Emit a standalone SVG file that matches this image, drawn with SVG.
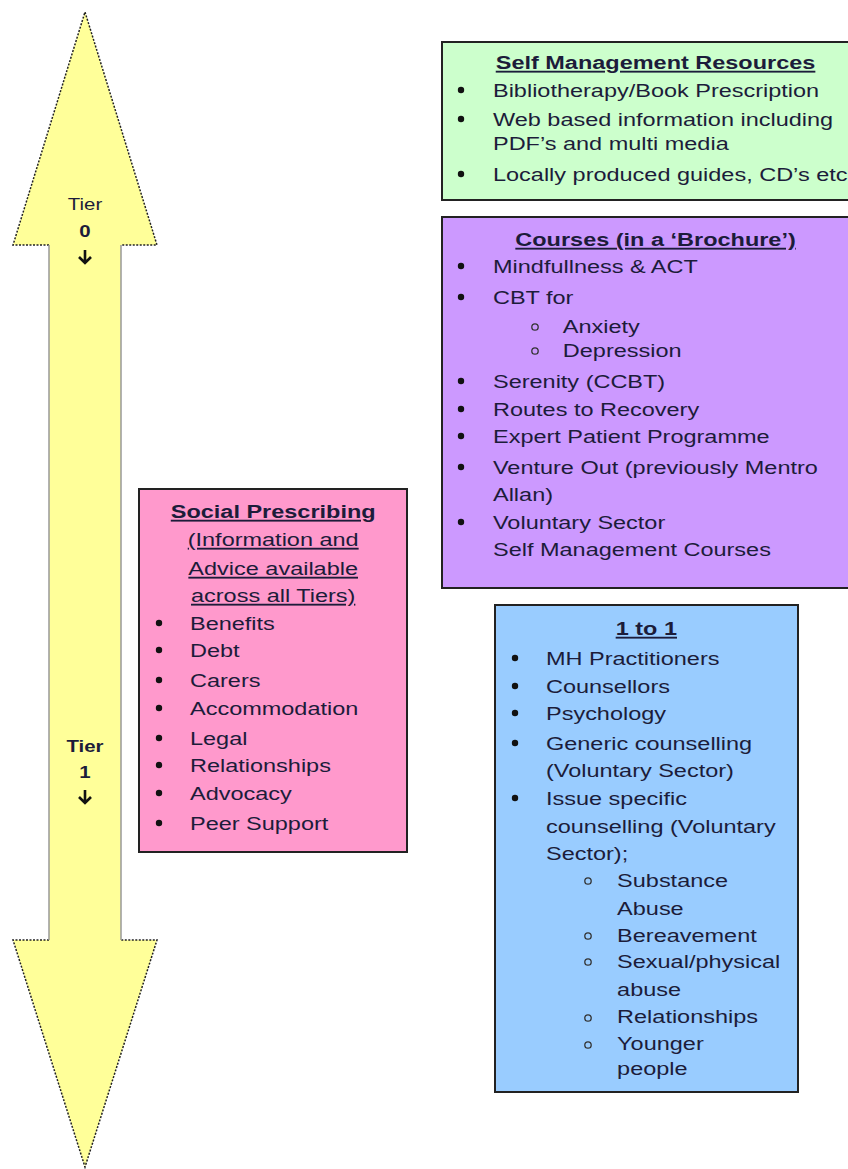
<svg xmlns="http://www.w3.org/2000/svg" width="848" height="1169" viewBox="0 0 848 1169">
<style>
.t{font-family:"Liberation Sans",Arial,sans-serif;font-size:18.5px;fill:#1c1c3a}
.b{font-weight:bold}
.u{text-decoration:underline}
.m{text-anchor:middle}
.box{stroke:#222;stroke-width:2}
.dot{fill:#111}
.sub{fill:none;stroke:#333;stroke-width:1.3}
.tier{font-family:"Liberation Sans",Arial,sans-serif;font-size:17px;fill:#1c1c3a;text-anchor:middle}
</style>
<rect width="848" height="1169" fill="#fff"/>
<g id="tier-arrow">
<polygon points="85,12 13,245 49,245 49,940 13,940 85,1167 157,940 121,940 121,245 157,245" fill="#ffff99"/>
<polyline points="49,245 13,245 85,12 157,245 121,245" fill="none" stroke="#222" stroke-width="1.5" stroke-dasharray="2 1.5"/>
<polyline points="49,940 13,940 85,1167 157,940 121,940" fill="none" stroke="#222" stroke-width="1.5" stroke-dasharray="2 1.5"/>
<line x1="49" y1="245" x2="49" y2="940" stroke="#999" stroke-width="1.5"/>
<line x1="121" y1="245" x2="121" y2="940" stroke="#999" stroke-width="1.5"/>
<g transform="translate(85,0) scale(1.2 1)">
<text class="tier" y="210">Tier</text>
<text class="tier b" y="237">0</text>
<text class="tier b" y="778">1</text>
<text class="tier b" y="752">Tier</text>
</g>
<path d="M85,250 V263 M79,257 L85,263 L91,257" fill="none" stroke="#111" stroke-width="2.6"/>
<path d="M85,790 V803 M79,797 L85,803 L91,797" fill="none" stroke="#111" stroke-width="2.6"/>
</g>
<g id="self-management">
<rect class="box" x="442" y="42" width="420" height="158" fill="#ccffcc"/>
<circle class="dot" cx="461" cy="90" r="3.2"/>
<circle class="dot" cx="461" cy="119" r="3.2"/>
<circle class="dot" cx="461" cy="174" r="3.2"/>
<g transform="translate(493,0) scale(1.27 1)">
<text class="t b u m" x="128" y="69">Self Management Resources</text>
<text class="t" x="0" y="97">Bibliotherapy/Book Prescription</text>
<text class="t" x="0" y="126">Web based information including</text>
<text class="t" x="0" y="150">PDF’s and multi media</text>
<text class="t" x="0" y="181">Locally produced guides, CD’s etc</text>
</g>
</g>
<g id="courses">
<rect class="box" x="442" y="217" width="420" height="371" fill="#cc99ff"/>
<circle class="dot" cx="461" cy="266" r="3.2"/>
<circle class="dot" cx="461" cy="297" r="3.2"/>
<circle class="sub" cx="535" cy="327" r="3.2"/>
<circle class="sub" cx="535" cy="351" r="3.2"/>
<circle class="dot" cx="461" cy="381" r="3.2"/>
<circle class="dot" cx="461" cy="409" r="3.2"/>
<circle class="dot" cx="461" cy="436" r="3.2"/>
<circle class="dot" cx="461" cy="467" r="3.2"/>
<circle class="dot" cx="461" cy="522" r="3.2"/>
<g transform="translate(493,0) scale(1.27 1)">
<text class="t b u m" x="128" y="246">Courses (in a ‘Brochure’)</text>
<text class="t" x="0" y="273">Mindfullness &amp; ACT</text>
<text class="t" x="0" y="304">CBT for</text>
<text class="t" x="55" y="333">Anxiety</text>
<text class="t" x="55" y="357">Depression</text>
<text class="t" x="0" y="388">Serenity (CCBT)</text>
<text class="t" x="0" y="416">Routes to Recovery</text>
<text class="t" x="0" y="443">Expert Patient Programme</text>
<text class="t" x="0" y="474">Venture Out (previously Mentro</text>
<text class="t" x="0" y="501">Allan)</text>
<text class="t" x="0" y="529">Voluntary Sector</text>
<text class="t" x="0" y="556">Self Management Courses</text>
</g>
</g>
<g id="social-prescribing">
<rect class="box" x="139" y="489" width="268" height="363" fill="#ff99cc"/>
<circle class="dot" cx="159" cy="623" r="3.2"/>
<circle class="dot" cx="159" cy="650" r="3.2"/>
<circle class="dot" cx="159" cy="680" r="3.2"/>
<circle class="dot" cx="159" cy="708" r="3.2"/>
<circle class="dot" cx="159" cy="738" r="3.2"/>
<circle class="dot" cx="159" cy="765" r="3.2"/>
<circle class="dot" cx="159" cy="793" r="3.2"/>
<circle class="dot" cx="159" cy="823" r="3.2"/>
<g transform="translate(190,0) scale(1.27 1)">
<text class="t b u m" x="65.5" y="518">Social Prescribing</text>
<text class="t u m" x="65.5" y="546">(Information and</text>
<text class="t u m" x="65.5" y="575">Advice available</text>
<text class="t u m" x="65.5" y="602">across all Tiers)</text>
<text class="t" x="0" y="630">Benefits</text>
<text class="t" x="0" y="657">Debt</text>
<text class="t" x="0" y="687">Carers</text>
<text class="t" x="0" y="715">Accommodation</text>
<text class="t" x="0" y="745">Legal</text>
<text class="t" x="0" y="772">Relationships</text>
<text class="t" x="0" y="800">Advocacy</text>
<text class="t" x="0" y="830">Peer Support</text>
</g>
</g>
<g id="one-to-one">
<rect class="box" x="495" y="605" width="303" height="487" fill="#99ccff"/>
<circle class="dot" cx="515" cy="658" r="3.2"/>
<circle class="dot" cx="515" cy="686" r="3.2"/>
<circle class="dot" cx="515" cy="713" r="3.2"/>
<circle class="dot" cx="515" cy="743" r="3.2"/>
<circle class="dot" cx="515" cy="798" r="3.2"/>
<circle class="sub" cx="588" cy="881" r="3.2"/>
<circle class="sub" cx="588" cy="936" r="3.2"/>
<circle class="sub" cx="588" cy="962" r="3.2"/>
<circle class="sub" cx="588" cy="1018" r="3.2"/>
<circle class="sub" cx="588" cy="1045" r="3.2"/>
<g transform="translate(546,0) scale(1.27 1)">
<text class="t b u m" x="79" y="635">1 to 1</text>
<text class="t" x="0" y="665">MH Practitioners</text>
<text class="t" x="0" y="693">Counsellors</text>
<text class="t" x="0" y="720">Psychology</text>
<text class="t" x="0" y="750">Generic counselling</text>
<text class="t" x="0" y="777">(Voluntary Sector)</text>
<text class="t" x="0" y="805">Issue specific</text>
<text class="t" x="0" y="833">counselling (Voluntary</text>
<text class="t" x="0" y="860">Sector);</text>
<text class="t" x="56" y="887">Substance</text>
<text class="t" x="56" y="915">Abuse</text>
<text class="t" x="56" y="942">Bereavement</text>
<text class="t" x="56" y="968">Sexual/physical</text>
<text class="t" x="56" y="996">abuse</text>
<text class="t" x="56" y="1023">Relationships</text>
<text class="t" x="56" y="1050">Younger</text>
<text class="t" x="56" y="1075">people</text>
</g>
</g>
</svg>
